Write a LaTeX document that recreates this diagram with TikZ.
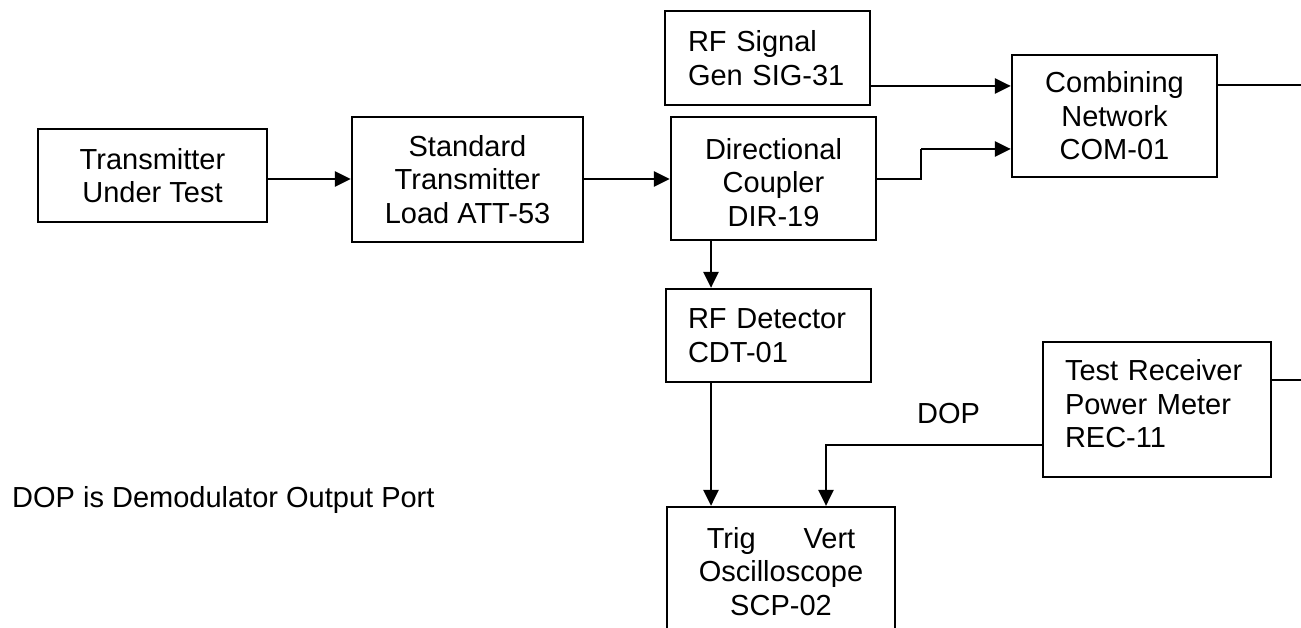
\documentclass[tikz,border=0pt]{standalone}
\usepackage{fontspec}
\setmainfont{Liberation Sans}
\usetikzlibrary{arrows.meta}
\begin{document}
\begin{tikzpicture}[x=1pt,y=-1pt,
  txt/.style={font=\fontsize{29}{33.5}\selectfont},
  box/.style={draw, line width=2.2pt, inner sep=0pt, align=center, txt},
  leftbox/.style={box, align=left, inner xsep=22pt},
  tip/.style={-{Triangle[length=16pt,width=15pt]}},
  arr/.style={line width=2.8pt, tip},
  thinline/.style={line width=1.5pt},
  lbl/.style={txt, inner sep=0pt}]
\clip (0,0) rectangle (1301,628);
\fill[white] (0,0) rectangle (1301,628);

% boxes
\node[box, minimum width=229pt, minimum height=93pt] (tut) at (152.5,175.5) {Transmitter\\Under Test};
\node[box, minimum width=231pt, minimum height=125pt] (std) at (467.5,179.5) {Standard\\Transmitter\\Load ATT-53};
\node[box, minimum width=205pt, minimum height=123pt] (dir) at (773.5,178.5) {\rule{0pt}{29pt}Directional\\Coupler\\DIR-19};
\node[leftbox, inner xsep=23pt, text width=159pt, minimum width=205pt, minimum height=94pt] (sig) at (767.5,58) {RF Signal\\Gen SIG-31};
\node[box, minimum width=205pt, minimum height=122pt] (com) at (1114.5,116) {Combining\\Network\\COM-01};
\node[leftbox, text width=161pt, minimum width=205pt, minimum height=93pt] (det) at (768.5,335.5) {RF Detector\\CDT-01};
\node[leftbox, text width=184pt, minimum width=228pt, minimum height=135pt] (rec) at (1157,409.5) {Test Receiver\\Power Meter\\REC-11\\[-22pt]\mbox{}};
\node[box, minimum width=228pt, minimum height=129pt] (scp) at (781,571.5) {Trig\hspace{48pt}Vert\\Oscilloscope\\SCP-02};

% labels
\node[lbl, anchor=base west] (doplbl) at (917,423) {DOP};
\node[lbl, anchor=base west] (note) at (12,507) {DOP is Demodulator Output Port};

% connectors
\draw[arr] ([yshift=-3.5pt]tut.east) -- ([yshift=-3.5pt]tut.east -| std.west);
\draw[arr] ([yshift=0.5pt]std.east) -- ([yshift=0.5pt]std.east -| dir.west);
\draw[arr] ([yshift=-28pt]sig.east) -- ([yshift=-28pt]sig.east -| com.west);
\coordinate (k) at (921,149);
\draw[thinline] ([yshift=-0.5pt]dir.east) -| (k);
\draw[arr] (k) -- (k -| com.west);
\coordinate (e1) at (1310,85);
\draw[thinline] (e1 -| com.east) -- (e1);
\draw[arr] ([xshift=-62.5pt]dir.south) -- ([xshift=-62.5pt]dir.south |- det.north);
\draw[arr] ([xshift=-57.5pt]det.south) -- ([xshift=-57.5pt]det.south |- scp.north);
\draw[line width=2.4pt, tip] ([yshift=-35.5pt]rec.west) -| ([xshift=45pt]scp.north);
\coordinate (e2) at (1310,380);
\draw[thinline] (e2 -| rec.east) -- (e2);
\end{tikzpicture}
\end{document}
